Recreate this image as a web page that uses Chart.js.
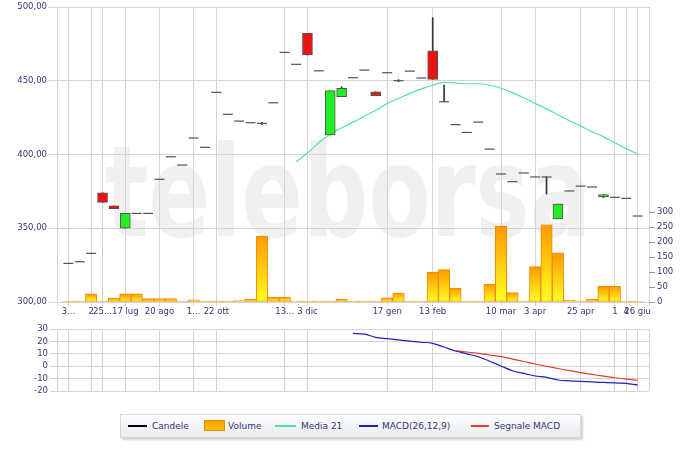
<!DOCTYPE html>
<html>
<head>
<meta charset="utf-8">
<script src="https://cdn.jsdelivr.net/npm/chart.js@4.4.0/dist/chart.umd.min.js"></script>
<style>
  html,body{margin:0;padding:0;background:#fff;}
  #wrap{position:relative;width:700px;height:451px;overflow:hidden;background:#fff;}
  #c1{position:absolute;left:0;top:0;}
  #c2{position:absolute;left:0;top:322px;}
  #legend{position:absolute;left:120px;top:414px;width:459px;height:22px;border:1px solid #d3d7df;
    background:linear-gradient(#fdfdfe,#e8ebf0);box-shadow:2px 2px 2px rgba(0,0,0,0.18);
    font-family:"DejaVu Sans";font-size:9px;color:#35357a;}
  #legend .ln{position:absolute;top:10px;height:2px;}
  #legend .tx{position:absolute;top:5px;line-height:12px;white-space:nowrap;}
  #legend .bx{position:absolute;top:5px;width:19px;height:9px;border:1px solid #e89000;
    background:linear-gradient(#ff9c00,#ffc400);}
</style>
</head>
<body>
<div id="wrap">
  <canvas id="c1" width="700" height="322"></canvas>
  <canvas id="c2" width="700" height="80"></canvas>
  <div id="legend">
    <div class="ln" style="left:7px;width:19px;background:#000;"></div>
    <div class="tx" style="left:31px;">Candele</div>
    <div class="bx" style="left:83px;"></div>
    <div class="tx" style="left:107px;">Volume</div>
    <div class="ln" style="left:154px;width:21px;background:#52e3a4;"></div>
    <div class="tx" style="left:180px;">Media 21</div>
    <div class="ln" style="left:238px;width:19px;background:#2020b8;"></div>
    <div class="tx" style="left:261px;">MACD(26,12,9)</div>
    <div class="ln" style="left:350px;width:18px;background:#e33a2a;"></div>
    <div class="tx" style="left:373px;">Segnale MACD</div>
  </div>
</div>
<script>
// ---- data (index 0..50, one per session) ----
const openP  = [326.2,327.3,333.0,374.1,365.3,350.0,360.1,360.1,383.2,398.5,392.9,411.2,404.9,442.2,427.3,422.7,421.6,421.1,435.1,469.3,461.2,482.2,456.8,413.3,439.2,452.1,457.3,442.6,455.5,450.1,456.6,451.9,470.4,435.8,420.3,415.0,422.0,403.7,386.8,381.6,387.5,384.8,384.8,356.3,375.3,378.6,378.0,371.4,371.0,370.3,358.3];
const closeP = [326.2,327.3,333.0,367.6,363.3,360.1,360.1,360.1,383.2,398.5,392.9,411.2,404.9,442.2,427.3,422.7,421.6,421.1,435.1,469.3,461.2,467.5,456.8,443.3,444.9,452.1,457.3,439.9,455.5,450.1,456.6,451.9,451.0,435.8,420.3,415.0,422.0,403.7,386.8,381.6,387.5,384.8,384.8,366.4,375.3,378.6,378.0,372.8,371.0,370.3,358.3];
const highP  = [326.2,327.3,333.0,374.1,365.3,360.1,360.1,360.1,383.2,398.5,392.9,411.2,404.9,442.2,427.3,422.7,421.6,421.9,435.1,469.3,461.2,482.2,456.8,443.3,446.0,452.1,457.3,442.6,455.5,450.8,456.6,451.9,492.8,447.1,420.3,415.0,422.0,403.7,386.8,381.6,387.5,384.8,384.8,366.4,375.3,378.6,378.0,372.8,371.0,370.3,358.3];
const lowP   = [326.2,327.3,333.0,367.6,363.3,350.0,360.1,360.1,383.2,398.5,392.9,411.2,404.9,442.2,427.3,422.7,421.6,420.4,435.1,469.3,461.2,467.5,456.8,413.3,439.2,452.1,457.3,439.9,455.5,449.4,456.6,451.9,451.0,435.8,420.3,415.0,422.0,403.7,386.8,381.6,387.5,384.8,373.2,356.3,375.3,378.6,378.0,370.8,371.0,370.3,358.3];
const volume = [2,2,27,2,13,27,27,11,11,11,2,7,2,2,2,5,9,220,16,16,1,1,1,1,9,1,1,1,14,30,1,1,100,108,46,2,2,60,253,31,2,118,257,164,6,3,9,52,52,2,2];
const media21 = [null,null,null,null,null,null,null,null,null,null,null,null,null,null,null,null,null,null,null,null,
  395,401,408,414,418,422,426,430,434.7,438,441.5,444.5,447,449,448.5,448,448,447,445,442,438.5,434.7,431,427,423,419.3,415.5,412,408,404,400.3];
const macd = [null,null,null,null,null,null,null,null,null,null,null,null,null,null,null,null,null,null,null,null,null,null,null,null,null,
  26.5,26,23.3,22.3,21.3,20.3,19.4,18.5,15.5,12.3,10,7.7,4,0.2,-3.6,-5.8,-7.9,-9,-11.1,-11.8,-12.2,-12.7,-13.1,-13.5,-13.8,-15.2];
const signal = [null,null,null,null,null,null,null,null,null,null,null,null,null,null,null,null,null,null,null,null,null,null,null,null,null,
  null,null,null,null,null,null,null,null,null,12.5,11.5,10.4,9.1,7.7,5.8,3.8,1.8,0,-1.8,-3.6,-5.2,-6.6,-8,-9.3,-10.4,-11.4];
const tickIdx = [0,2,3,5,8,11,13,19,21,28,32,38,41,45,48,49,50];
const tickLabels = ["3...","2","25...","17 lug","20 ago","1...","22 ott","13...","3 dic","17 gen","13 feb","10 mar","3 apr","25 apr","1","4","26 giu"];
const priceTicks = [300,350,400,450,500];
const volTicks = [0,50,100,150,200,250,300];
const macdTicks = [-20,-10,0,10,20,30];

// ---- styling ----
const FONT = {family:"DejaVu Sans", size:8.5};
const TXT = '#35357a';
const GRID = '#d4d4d4';
Chart.defaults.font.family = "DejaVu Sans";

const idx = openP.map((_, i) => i);
const isDoji = i => Math.abs(openP[i] - closeP[i]) < 0.05;

const wickData = idx.filter(i => highP[i] - lowP[i] > 0.3).map(i => ({x:i, y:[lowP[i], highP[i]]}));
const bodyIdx = idx.filter(i => !isDoji(i));
const bodyData = bodyIdx.map(i => ({x:i, y:[openP[i], closeP[i]]}));
const dojiData = idx.filter(isDoji).map(i => ({x:i, y:closeP[i]}));
const volData = idx.map(i => ({x:i, y:volume[i]}));
const maData = idx.map(i => ({x:i, y:media21[i]}));

function xTicks(s){ s.ticks = [-1, ...tickIdx, 51].map(v => ({value:v})); }

const watermark = {
  id:'watermark',
  beforeDraw(chart){
    const ctx = chart.ctx;
    ctx.save();
    ctx.font = 'bold 126px "DejaVu Sans"';
    ctx.fillStyle = '#f0f0f0';
    ctx.textBaseline = 'alphabetic';
    const w = ctx.measureText('teleborsa').width;
    const target = 486;
    ctx.translate(105, 236);
    ctx.scale(target / w, 1);
    ctx.fillText('teleborsa', 0, 0);
    ctx.restore();
  }
};

new Chart(document.getElementById('c1'), {
  type:'bar',
  data:{datasets:[
    {type:'line', label:'Candele doji', data:dojiData, yAxisID:'y', showLine:false,
     pointStyle:'line', pointRadius:5, pointHoverRadius:5, borderColor:'#4b5262', borderWidth:1.2, order:1},
    {label:'Candele', data:bodyData, yAxisID:'y', grouped:false, barThickness:10,
     backgroundColor: bodyIdx.map(i => closeP[i] >= openP[i] ? '#22ee22' : '#ee1111'),
     borderColor:'#555', borderWidth:1, borderSkipped:false, order:2},
    {label:'Stoppini', data:wickData, yAxisID:'y', grouped:false, barThickness:1,
     backgroundColor:'#333', borderWidth:0, order:3},
    {type:'line', label:'Media 21', data:maData, yAxisID:'y', borderColor:'#52e3a4', borderWidth:1.2,
     pointRadius:0, cubicInterpolationMode:'monotone', spanGaps:false, order:4},
    {label:'Volume', data:volData, yAxisID:'yVol', grouped:false, barPercentage:1, categoryPercentage:1,
     backgroundColor: c => {
       if (c.type !== 'data') return '#ffb000';
       const ys = c.chart.scales.yVol;
       const v = volume[c.dataIndex];
       if (!ys) return '#ffb000';
       const top = ys.getPixelForValue(v), bot = ys.getPixelForValue(0);
       if (!isFinite(top) || bot - top < 2) return '#ffa200';
       const g = c.chart.ctx.createLinearGradient(0, top, 0, bot);
       g.addColorStop(0, '#ff9900'); g.addColorStop(1, '#ffff22');
       return g;
     },
     borderColor:'#f08a00', borderWidth:1, borderSkipped:false, order:5}
  ]},
  options:{
    responsive:false, animation:false, events:[],
    layout:{padding:{top:7, left:0, right:0, bottom:0}},
    plugins:{legend:{display:false}, tooltip:{enabled:false}},
    scales:{
      x:{type:'linear', min:-1, max:51, offset:false, afterBuildTicks:xTicks,
         ticks:{autoSkip:false, maxRotation:0, font:FONT, color:TXT, padding:1,
                callback:v => { const k = tickIdx.indexOf(v); return k < 0 ? '' : tickLabels[k]; }},
         grid:{color:GRID, tickLength:4, offset:false}, border:{display:false},
         afterFit:s => { s.height = 20; }},
      y:{position:'left', min:300, max:500,
         afterBuildTicks:s => { s.ticks = priceTicks.map(v => ({value:v})); },
         ticks:{autoSkip:false, font:FONT, color:TXT, padding:1, callback:v => v.toFixed(2).replace('.', ',')},
         grid:{color:GRID, tickLength:9}, border:{display:false},
         afterFit:s => { s.width = 57; }},
      yVol:{position:'right', min:0, max:983.3,
         afterBuildTicks:s => { s.ticks = volTicks.map(v => ({value:v})); },
         ticks:{autoSkip:false, font:FONT, color:TXT, padding:2},
         grid:{drawOnChartArea:false, tickLength:6, color:'#9a9a9a'}, border:{display:false},
         afterFit:s => { s.width = 51; }}
    }
  },
  plugins:[watermark]
});

new Chart(document.getElementById('c2'), {
  type:'line',
  data:{datasets:[
    {label:'MACD(26,12,9)', data:idx.map(i => ({x:i, y:macd[i]})), borderColor:'#2020b8', borderWidth:1.2,
     pointRadius:0, cubicInterpolationMode:'monotone'},
    {label:'Segnale MACD', data:idx.map(i => ({x:i, y:signal[i]})), borderColor:'#e33a2a', borderWidth:1.2,
     pointRadius:0, cubicInterpolationMode:'monotone'}
  ]},
  options:{
    responsive:false, animation:false, events:[],
    layout:{padding:{top:7, left:0, right:51, bottom:0}},
    plugins:{legend:{display:false}, tooltip:{enabled:false}},
    scales:{
      x:{type:'linear', min:-1, max:51, offset:false, afterBuildTicks:xTicks,
         ticks:{display:false}, grid:{color:GRID, drawTicks:false}, border:{display:false},
         afterFit:s => { s.height = 11; }},
      y:{min:-20, max:30,
         afterBuildTicks:s => { s.ticks = macdTicks.map(v => ({value:v})); },
         ticks:{autoSkip:false, font:FONT, color:TXT, padding:2},
         grid:{color:GRID, tickLength:7}, border:{display:false},
         afterFit:s => { s.width = 57; }}
    }
  }
});
</script>
</body>
</html>
